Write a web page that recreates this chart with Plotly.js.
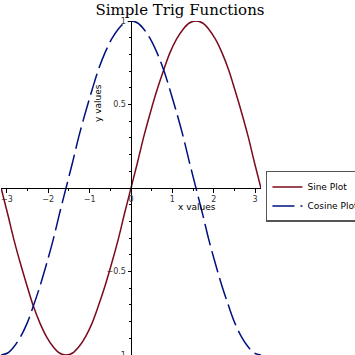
<!DOCTYPE html>
<html>
<head>
<meta charset="utf-8">
<script src="https://cdn.plot.ly/plotly-3.0.1.min.js"></script>
<style>html,body{margin:0;padding:0;background:#fff;}#chart{width:355px;height:355px;}</style>
</head>
<body>
<div id="chart"></div>
<script>
// x values sampled across [-pi, pi]
const xValues = [-3.14,-2.98,-2.83,-2.67,-2.51,-2.36,-2.20,-2.04,-1.88,-1.73,-1.57,-1.41,-1.26,-1.10,-0.94,-0.79,-0.63,-0.47,-0.31,-0.16,0,0.16,0.31,0.47,0.63,0.79,0.94,1.10,1.26,1.41,1.57,1.73,1.88,2.04,2.20,2.36,2.51,2.67,2.83,2.98,3.14];
const sineValues = [0,-0.156,-0.309,-0.454,-0.588,-0.707,-0.809,-0.891,-0.951,-0.988,-1,-0.988,-0.951,-0.891,-0.809,-0.707,-0.588,-0.454,-0.309,-0.156,0,0.156,0.309,0.454,0.588,0.707,0.809,0.891,0.951,0.988,1,0.988,0.951,0.891,0.809,0.707,0.588,0.454,0.309,0.156,0];
const cosineValues = [-1,-0.988,-0.951,-0.891,-0.809,-0.707,-0.588,-0.454,-0.309,-0.156,0,0.156,0.309,0.454,0.588,0.707,0.809,0.891,0.951,0.988,1,0.988,0.951,0.891,0.809,0.707,0.588,0.454,0.309,0.156,0,-0.156,-0.309,-0.454,-0.588,-0.707,-0.809,-0.891,-0.951,-0.988,-1];
const seriesNames = ['Sine Plot', 'Cosine Plot'];
const xTickVals = [-3,-2,-1,0,1,2,3];
const xTickText = ['\u22123','\u22122','\u22121','0','1','2','3'];
const yTickVals = [-1,-0.5,0,0.5,1];
const yTickText = ['\u22121','\u22120.5','','0.5','1'];
const titleText = 'Simple Trig Functions';
const xLabel = 'x values';
const yLabel = 'y values';

const traces = [
  {x: xValues, y: sineValues, name: seriesNames[0], mode: 'lines',
   line: {color: '#7a0a1e', width: 1.5, shape: 'spline'}},
  {x: xValues, y: cosineValues, name: seriesNames[1], mode: 'lines',
   line: {color: '#00107f', width: 1.5, shape: 'spline', dash: '22px,6px'}}
];

const tickFont = {family: 'DejaVu Sans', size: 8, color: '#333'};
const layout = {
  width: 355, height: 355,
  paper_bgcolor: '#fff', plot_bgcolor: '#fff',
  margin: {l: 1, r: 94, t: 21, b: 0, autoexpand: false},
  title: {text: titleText, font: {family: 'DejaVu Serif', size: 15, color: '#000'},
          xref: 'container', x: 0.507, xanchor: 'center', yref: 'container', y: 0.972, yanchor: 'middle'},
  xaxis: {range: [-Math.PI, Math.PI], anchor: 'free', position: 0.5,
          showline: true, linecolor: '#000', linewidth: 1, zeroline: false, showgrid: false,
          tickvals: xTickVals, ticktext: xTickText, ticks: 'outside', ticklen: 3.5, tickcolor: '#000',
          tickfont: tickFont, ticklabeloverflow: 'allow',
          minor: {dtick: 0.5, tick0: 0, ticks: 'outside', ticklen: 2, tickcolor: '#000', showgrid: false}},
  yaxis: {range: [-1, 1], anchor: 'free', position: 0.5,
          showline: true, linecolor: '#000', linewidth: 1, zeroline: false, showgrid: false,
          tickvals: yTickVals, ticktext: yTickText, ticks: 'outside', ticklen: 3.5, tickcolor: '#000',
          tickfont: tickFont, ticklabeloverflow: 'allow',
          minor: {dtick: 0.1, tick0: 0, ticks: 'outside', ticklen: 2, tickcolor: '#000', showgrid: false}},
  showlegend: true,
  legend: {x: 1.019, xanchor: 'left', y: 0.551, yanchor: 'top',
           bgcolor: '#fff', bordercolor: '#555', borderwidth: 1.5,
           font: {family: 'DejaVu Sans', size: 9, color: '#000'}, itemwidth: 30, tracegroupgap: 0},
  annotations: [
    {text: xLabel, xref: 'paper', yref: 'paper', x: (197-1)/260, y: (355-207)/334,
     xanchor: 'center', yanchor: 'middle', showarrow: false, font: {family: 'DejaVu Sans', size: 9, color: '#000'}},
    {text: yLabel, xref: 'paper', yref: 'paper', x: (98-1)/260, y: (355-103)/334, textangle: -90,
     xanchor: 'center', yanchor: 'middle', showarrow: false, font: {family: 'DejaVu Sans', size: 9, color: '#000'}}
  ]
};
Plotly.newPlot('chart', traces, layout, {displayModeBar: false, staticPlot: true});
</script>
</body>
</html>
